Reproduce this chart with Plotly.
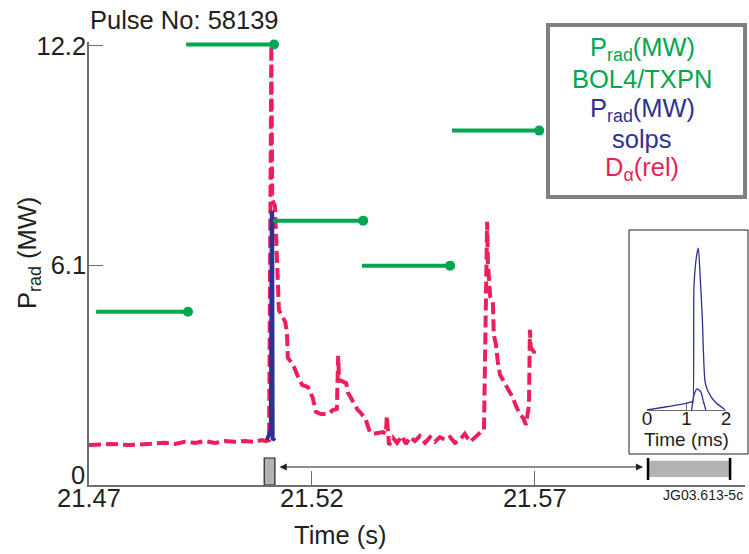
import plotly.graph_objects as go

# ---------------- data ----------------
pulse_label = "Pulse No: 58139"
y_tick_vals = [0, 6.1, 12.2]
y_tick_text = ["0", "6.1", "12.2"]
x_tick_vals = [21.47, 21.52, 21.57]
x_tick_text = ["21.47", "21.52", "21.57"]

# Prad (MW) BOL4/TXPN : 20 ms averaged values
bol_t_start = [21.4716, 21.4918, 21.5113, 21.5312, 21.5514]
bol_t_end = [21.4922, 21.5115, 21.5315, 21.5510, 21.5710]
bol_prad = [4.81, 12.23, 7.34, 6.09, 9.84]

# Prad (MW) solps
solps_t = [21.5099, 21.5104, 21.5108, 21.5110, 21.5111, 21.5112, 21.5117]
solps_prad = [1.25, 1.42, 1.53, 7.56, 7.56, 1.25, 1.31]

# D alpha (rel)
dalpha_t = [21.4700, 21.4747, 21.4792, 21.4837, 21.4870, 21.4893, 21.4915, 21.4938,
            21.4960, 21.4983, 21.5005, 21.5027, 21.5050, 21.5072, 21.5088, 21.5097,
            21.5104, 21.5109, 21.5111, 21.5117, 21.5122, 21.5126, 21.5140, 21.5144,
            21.5146, 21.5158, 21.5167, 21.5178, 21.5191, 21.5202, 21.5209, 21.5220,
            21.5236, 21.5247, 21.5256, 21.5259, 21.5261, 21.5277, 21.5281, 21.5288,
            21.5297, 21.5303, 21.5310, 21.5321, 21.5330, 21.5339, 21.5359, 21.5366,
            21.5368, 21.5373, 21.5382, 21.5391, 21.5402, 21.5411, 21.5420, 21.5431,
            21.5442, 21.5454, 21.5465, 21.5476, 21.5487, 21.5499, 21.5510, 21.5521,
            21.5532, 21.5543, 21.5555, 21.5568, 21.5579, 21.5586, 21.5593, 21.5595,
            21.5600, 21.5606, 21.5607, 21.5608, 21.5613, 21.5615, 21.5617, 21.5622,
            21.5631, 21.5640, 21.5647, 21.5651, 21.5656, 21.5665, 21.5674, 21.5680,
            21.5687, 21.5689, 21.5691, 21.5698, 21.5696]
dalpha_rel = [1.11, 1.14, 1.11, 1.14, 1.17, 1.14, 1.20, 1.17,
              1.22, 1.17, 1.22, 1.20, 1.22, 1.20, 1.25, 1.22,
              1.25, 12.20, 7.92, 7.75, 6.25, 4.86, 4.53, 4.25,
              3.53, 3.34, 3.06, 2.78, 2.72, 2.42, 2.03, 1.97,
              1.97, 2.08, 2.11, 3.59, 2.92, 2.83, 2.56, 2.42,
              2.25, 2.08, 2.00, 1.81, 1.47, 1.42, 1.47, 1.42,
              1.92, 1.11, 1.31, 1.17, 1.36, 1.14, 1.33, 1.22,
              1.36, 1.17, 1.33, 1.20, 1.33, 1.25, 1.33, 1.17,
              1.25, 1.42, 1.20, 1.36, 1.47, 1.53, 7.31, 6.11,
              5.23, 5.09, 4.45, 4.17, 3.89, 3.61, 3.42, 3.06,
              2.86, 2.70, 2.50, 2.42, 2.25, 2.00, 1.86, 1.67,
              2.22, 4.31, 3.81, 3.70, 3.53]

# inset: solps Prad over 2 ms (arbitrary units)
inset_t1 = [0, 0.5, 1.0, 1.13, 1.16, 1.19, 1.26, 1.30, 1.34, 1.40, 1.47, 1.55, 1.72, 1.97]
inset_p1 = [0, 0.2, 0.41, 0.5, 0.4, 7.7, 9.6, 10.0, 8.5, 5.7, 1.73, 1.13, 0.51, 0.03]
inset_t2 = [1.13, 1.19, 1.27, 1.36, 1.43, 1.49]
inset_p2 = [0, 0.93, 1.3, 1.13, 0.51, 0]
inset_ticks = [0, 1, 2]

# ---------------- style / layout ----------------
GREEN = "#00a650"
NAVY = "#2e3192"
RED = "#ed1e5a"
TXT = "#231f20"
AX = "#6d6e71"
FONT = "Liberation Sans"

WIDTH, HEIGHT = 749, 554
L, R, T, B = 89, 4, 42, 69
PW, PH = WIDTH - L - R, HEIGHT - T - B


def px(x):
    return (x - L) / PW


def py(y):
    return (HEIGHT - B - y) / PH


fig = go.Figure()

# D alpha
fig.add_trace(go.Scatter(x=dalpha_t, y=dalpha_rel, mode="lines",
                         line=dict(color=RED, width=4, dash="12px,5px"),
                         hoverinfo="skip", showlegend=False))
# solps
fig.add_trace(go.Scatter(x=solps_t, y=solps_prad, mode="lines",
                         line=dict(color=NAVY, width=4),
                         hoverinfo="skip", showlegend=False))
# bolometer segments
gx, gy = [], []
for t0, t1, v in zip(bol_t_start, bol_t_end, bol_prad):
    gx += [t0, t1, None]
    gy += [v, v, None]
fig.add_trace(go.Scatter(x=gx, y=gy, mode="lines",
                         line=dict(color=GREEN, width=4),
                         hoverinfo="skip", showlegend=False))
fig.add_trace(go.Scatter(x=bol_t_end, y=bol_prad, mode="markers",
                         marker=dict(color=GREEN, size=10),
                         cliponaxis=False, hoverinfo="skip", showlegend=False))

# inset
fig.add_trace(go.Scatter(x=inset_t1, y=inset_p1, mode="lines", xaxis="x2", yaxis="y2",
                         line=dict(color=NAVY, width=1.3, shape="spline", smoothing=0.6),
                         hoverinfo="skip", showlegend=False))
fig.add_trace(go.Scatter(x=inset_t2, y=inset_p2, mode="lines", xaxis="x2", yaxis="y2",
                         line=dict(color=NAVY, width=1.3, shape="spline", smoothing=0.6),
                         hoverinfo="skip", showlegend=False))

# the "0" label sits a little higher in the reference; drawn as annotation
y_axis_text = [t if v != 0 else "" for v, t in zip(y_tick_vals, y_tick_text)]

fig.update_layout(
    width=WIDTH, height=HEIGHT,
    margin=dict(l=L, r=R, t=T, b=B, autoexpand=False),
    paper_bgcolor="white", plot_bgcolor="white",
    font=dict(family=FONT, size=25, color=TXT),
    showlegend=False,
    xaxis=dict(range=[21.47, 21.47 + PW / 4458.0], tickvals=x_tick_vals, ticktext=x_tick_text,
               showgrid=False, zeroline=False, showline=True, linecolor=AX, linewidth=1.5,
               ticks="inside", ticklen=14, tickcolor=AX, tickwidth=1.2,
               ticklabelstandoff=-10,
               tickfont=dict(size=25.5, color=TXT)),
    yaxis=dict(range=[0, 12.3], tickvals=y_tick_vals, ticktext=y_axis_text,
               showgrid=False, zeroline=False, showline=True, linecolor=AX, linewidth=1.5,
               ticks="inside", ticklen=14, tickcolor=AX, tickwidth=1.2,
               ticklabelstandoff=-4,
               tickfont=dict(size=25.5, color=TXT)),
    xaxis2=dict(domain=[px(647), px(726)], anchor="y2", range=[0, 2],
                tickvals=inset_ticks, showgrid=False, zeroline=False,
                showline=True, linecolor=AX, linewidth=1.2,
                ticks="inside", ticklen=8, tickcolor=AX, tickwidth=1,
                ticklabelstandoff=-9,
                tickfont=dict(size=19, color=TXT),
                title=dict(text="Time (ms)", font=dict(size=19, color=TXT), standoff=0)),
    yaxis2=dict(domain=[py(410), py(240)], anchor="x2", range=[0, 10.5], visible=False),
)

shapes = [
    # legend box
    dict(type="rect", xref="paper", yref="paper", x0=px(548), x1=px(745), y0=py(197), y1=py(25),
         line=dict(color="#808080", width=4), fillcolor="white", layer="below"),
    # inset box
    dict(type="rect", xref="paper", yref="paper", x0=px(629), x1=px(748), y0=py(454), y1=py(230),
         line=dict(color=TXT, width=1), fillcolor="white", layer="below"),
    # markers of the time window
    dict(type="rect", xref="x", yref="y", x0=21.5093, x1=21.5117, y0=0, y1=0.75,
         line=dict(color=TXT, width=1.2), fillcolor="#b3b3b3"),
    dict(type="rect", xref="x", yref="y", x0=21.5954, x1=21.6138, y0=0.22, y1=0.67,
         line=dict(width=0), fillcolor="#b3b3b3"),
    dict(type="line", xref="x", yref="y", x0=21.5954, x1=21.5954, y0=0.14, y1=0.75,
         line=dict(color="black", width=2.5)),
    dict(type="line", xref="x", yref="y", x0=21.6138, x1=21.6138, y0=0.14, y1=0.75,
         line=dict(color="black", width=2.5)),
]
fig.update_layout(shapes=shapes)

ann = [
    dict(x=21.5943, y=0.5, ax=21.5124, ay=0.5, xref="x", yref="y", axref="x", ayref="y",
         text="", showarrow=True, arrowhead=2, arrowside="end+start", arrowsize=1.2,
         arrowwidth=1.2, arrowcolor=TXT),
    dict(x=px(87), y=py(475), xref="paper", yref="paper", text=y_tick_text[0], showarrow=False,
         xanchor="right", yanchor="middle", font=dict(size=25.5, color=TXT)),
    dict(x=px(88), y=py(20), xref="paper", yref="paper", text=pulse_label, showarrow=False,
         xanchor="left", yanchor="middle", font=dict(size=25.5, color=TXT)),
    dict(x=px(340), y=py(535), xref="paper", yref="paper", text="Time (s)", showarrow=False,
         xanchor="center", yanchor="middle", font=dict(size=25.5, color=TXT)),
    dict(x=px(29), y=py(253), xref="paper", yref="paper", text="P<sub>rad</sub> (MW)",
         showarrow=False, textangle=-90, xanchor="center", yanchor="middle",
         font=dict(size=25.5, color=TXT)),
    dict(x=px(745), y=py(495), xref="paper", yref="paper", text="JG03.613-5c", showarrow=False,
         xanchor="right", yanchor="middle", font=dict(size=14, color=TXT)),
]
legend_lines = [
    ("P<sub>rad</sub>(MW)", GREEN, 49),
    ("BOL4/TXPN", GREEN, 79),
    ("P<sub>rad</sub>(MW)", NAVY, 110),
    ("solps", NAVY, 139),
    ("D<sub>α</sub>(rel)", RED, 169),
]
for text, col, yy in legend_lines:
    ann.append(dict(x=px(642), y=py(yy), xref="paper", yref="paper", text=text,
                    showarrow=False, xanchor="center", yanchor="middle",
                    font=dict(size=25.5, color=col)))
fig.update_layout(annotations=ann)

fig.write_html("out.html", config={"displayModeBar": False},
               post_script="document.body.style.margin='0px';")
